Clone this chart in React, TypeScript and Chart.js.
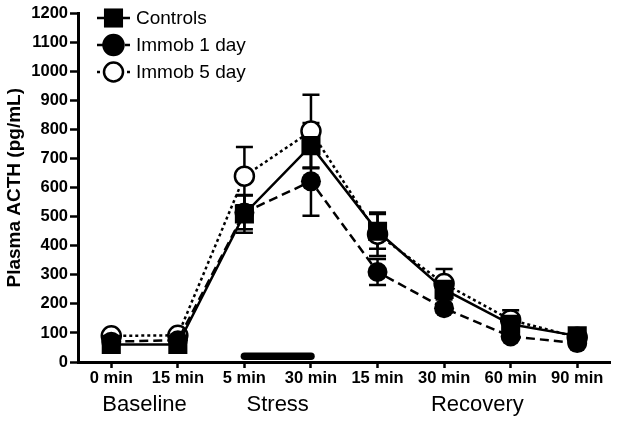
import React, { useEffect, useRef } from "react";
import { Chart, registerables } from "chart.js";

Chart.register(...registerables);

// ---- data ----
const timeLabels = ["0 min", "15 min", "5 min", "30 min", "15 min", "30 min", "60 min", "90 min"];
const phaseNames = ["Baseline", "Stress", "Recovery"];
const phaseIndices = [[0, 1], [2, 3], [4, 5, 6, 7]];
const seriesNames = ["Controls", "Immob 1 day", "Immob 5 day"];
const controlsMean = [60, 60, 510, 745, 450, 250, 130, 90];
const controlsSem = [10, 10, 65, 78, 60, 35, 22, 10];
const immob1Mean = [70, 75, 515, 622, 310, 185, 88, 65];
const immob1Sem = [8, 8, 58, 118, 45, 15, 10, 8];
const immob5Mean = [90, 92, 640, 795, 440, 270, 145, 85];
const immob5Sem = [8, 8, 100, 125, 75, 50, 33, 8];
const stressBar = [null, null, 20, 20, null, null, null, null];
const yMin = 0;
const yMax = 1200;
const yStep = 100;

const FONT = "'Liberation Sans', Arial, Helvetica, sans-serif";

const seriesStyles = [
  { dash: [] as number[], style: "rect", radius: 13.5, fill: "#000" },
  { dash: [9, 5], style: "circle", radius: 10, fill: "#000" },
  { dash: [3, 3], style: "circle", radius: 9.5, fill: "#fff" },
];
const seriesMeans = [controlsMean, immob1Mean, immob5Mean];
const seriesSems = [controlsSem, immob1Sem, immob5Sem];

const errorBarPlugin = {
  id: "errorBars",
  beforeDatasetsDraw(chart: any) {
    const { ctx, scales } = chart;
    const xs = scales.x;
    const ys = scales.y;
    ctx.save();
    ctx.strokeStyle = "#000";
    ctx.lineWidth = 2.5;
    ctx.setLineDash([]);
    seriesMeans.forEach((means, si) => {
      const sems = seriesSems[si];
      means.forEach((m, i) => {
        const x = xs.getPixelForValue(i);
        const yt = ys.getPixelForValue(m + sems[i]);
        const yb = ys.getPixelForValue(m - sems[i]);
        ctx.beginPath();
        ctx.moveTo(x, yt);
        ctx.lineTo(x, yb);
        ctx.moveTo(x - 8.5, yt);
        ctx.lineTo(x + 8.5, yt);
        ctx.moveTo(x - 8.5, yb);
        ctx.lineTo(x + 8.5, yb);
        ctx.stroke();
      });
    });
    ctx.restore();
  },
};

const legendPlugin = {
  id: "customLegend",
  afterDraw(chart: any) {
    const { ctx } = chart;
    const x0 = 97;
    const x1 = 130;
    const rows = [18, 45, 72];
    ctx.save();
    seriesNames.forEach((name, i) => {
      const st = seriesStyles[i];
      const y = rows[i];
      ctx.strokeStyle = "#000";
      ctx.lineWidth = 2.5;
      ctx.setLineDash(st.dash);
      ctx.beginPath();
      ctx.moveTo(x0, y);
      ctx.lineTo(x1, y);
      ctx.stroke();
      ctx.setLineDash([]);
      const cx = (x0 + x1) / 2;
      ctx.fillStyle = st.fill;
      ctx.beginPath();
      if (st.style === "rect") {
        const s = st.radius * Math.SQRT1_2;
        ctx.rect(cx - s, y - s, 2 * s, 2 * s);
        ctx.fill();
      } else {
        ctx.arc(cx, y, st.radius, 0, Math.PI * 2);
        ctx.fill();
        ctx.lineWidth = 2.5;
        ctx.stroke();
      }
      ctx.fillStyle = "#000";
      ctx.font = `19px ${FONT}`;
      ctx.textAlign = "left";
      ctx.textBaseline = "middle";
      ctx.fillText(name, 136, y + 1);
    });
    ctx.restore();
  },
};

const phasePlugin = {
  id: "phaseLabels",
  afterDraw(chart: any) {
    const { ctx, scales } = chart;
    const xs = scales.x;
    ctx.save();
    ctx.fillStyle = "#000";
    ctx.font = `22px ${FONT}`;
    ctx.textAlign = "center";
    ctx.textBaseline = "middle";
    phaseNames.forEach((name, i) => {
      const idx = phaseIndices[i];
      const a = xs.getPixelForValue(idx[0]);
      const b = xs.getPixelForValue(idx[idx.length - 1]);
      ctx.fillText(name, (a + b) / 2, 405);
    });
    ctx.restore();
  },
};

export default function App() {
  const ref = useRef<HTMLCanvasElement | null>(null);
  useEffect(() => {
    if (!ref.current) return;
    const datasets: any[] = seriesNames.map((name, i) => {
      const st = seriesStyles[i];
      return {
        label: name,
        data: seriesMeans[i],
        borderColor: "#000",
        borderWidth: 2.5,
        borderDash: st.dash,
        pointStyle: st.style,
        pointRadius: st.radius,
        pointBackgroundColor: st.fill,
        pointBorderColor: "#000",
        pointBorderWidth: st.fill === "#fff" ? 2.5 : 0,
        fill: false,
        tension: 0,
      };
    });
    datasets.push({
      label: "stress",
      data: stressBar,
      borderColor: "#000",
      borderWidth: 7.5,
      borderCapStyle: "round",
      pointRadius: 0,
      fill: false,
      spanGaps: false,
    });
    const chart = new Chart(ref.current, {
      type: "line",
      data: { labels: timeLabels, datasets },
      options: {
        animation: false,
        responsive: false,
        layout: { padding: { top: 11, right: 7, left: 0, bottom: 0 } },
        plugins: { legend: { display: false }, tooltip: { enabled: false } },
        scales: {
          x: {
            type: "category",
            offset: true,
            grid: {
              drawOnChartArea: false,
              drawTicks: true,
              tickLength: 6,
              tickWidth: 2.5,
              tickColor: "#000",
            },
            border: { display: true, color: "#000", width: 3 },
            ticks: {
              color: "#000",
              font: { family: FONT, size: 16.5, weight: "bold" },
              padding: 1,
              maxRotation: 0,
              autoSkip: false,
            },
            afterFit: (s: any) => {
              s.height = 59;
            },
          },
          y: {
            min: yMin,
            max: yMax,
            grid: {
              drawOnChartArea: false,
              drawTicks: true,
              tickLength: 8,
              tickWidth: 2.5,
              tickColor: "#000",
            },
            border: { display: true, color: "#000", width: 3 },
            ticks: {
              stepSize: yStep,
              color: "#000",
              font: { family: FONT, size: 16.5, weight: "bold" },
              padding: 2,
              callback: (v: any) => String(v),
            },
            title: {
              display: true,
              text: "Plasma ACTH (pg/mL)",
              color: "#000",
              font: { family: FONT, size: 19, weight: "bold" },
              padding: { top: 3, bottom: 0 },
            },
            afterFit: (s: any) => {
              s.width = 78;
            },
          },
        },
      },
      plugins: [errorBarPlugin, phasePlugin, legendPlugin],
    } as any);
    return () => chart.destroy();
  }, []);
  return (
    <div style={{ position: "absolute", left: 0, top: 0, width: 624, height: 421, background: "#fff" }}>
      <canvas ref={ref} width={624} height={421} style={{ display: "block" }} />
    </div>
  );
}
